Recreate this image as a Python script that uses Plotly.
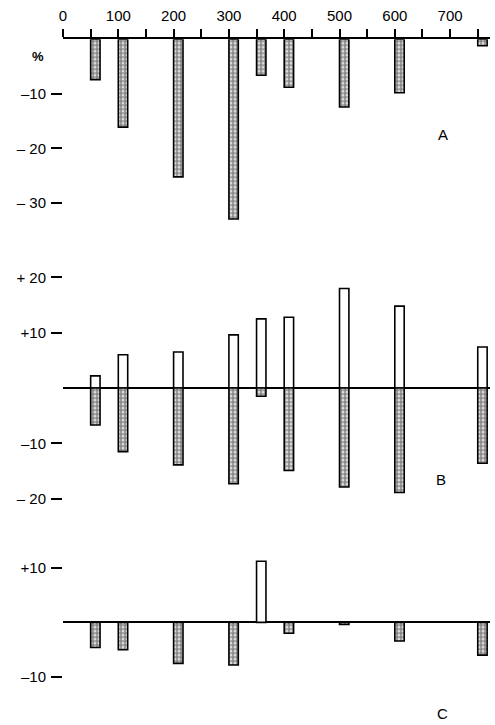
import plotly.graph_objects as go

# ---- data ----
x_vals = [50, 100, 200, 300, 350, 400, 500, 600, 750]
a_vals = [-7.4, -16.1, -25.2, -32.9, -6.6, -8.8, -12.4, -9.8, -1.2]
b_pos = [2.2, 6.0, 6.5, 9.6, 12.5, 12.8, 18.0, 14.8, 7.4]
b_neg = [-6.7, -11.5, -13.9, -17.3, -1.5, -14.9, -17.9, -18.9, -13.6]
c_vals = [-4.6, -5.0, -7.5, -7.8, 11.2, -2.0, -0.4, -3.4, -6.0]

x_tickvals = list(range(0, 800, 50))
x_ticktext = [str(v) if v % 100 == 0 and v <= 700 else "" for v in x_tickvals]
a_ytickvals = [-10, -20, -30]
a_yticktext = ["–10", "– 20", "– 30"]
b_ytickvals = [20, 10, -10, -20]
b_yticktext = ["+ 20", "+10", "–10", "– 20"]
c_ytickvals = [10, -10]
c_yticktext = ["+10", "–10"]
panel_labels = ["A", "B", "C"]

W, H = 495, 725
L, R = 63, 5
FONT = "Liberation Sans"
BAR_W = 17

def py(p):
    return 1 - p / H

def px(p):
    return (p - L) / (W - L - R)

stipple = dict(shape=".", fgcolor="#111111", bgcolor="white", size=4, solidity=0.75)
outline = dict(color="black", width=1.6)

fig = go.Figure()

fig.add_trace(go.Bar(x=x_vals, y=a_vals, offset=0, width=BAR_W,
                     marker=dict(color="white", pattern=stipple, line=outline),
                     xaxis="x", yaxis="y", showlegend=False))
fig.add_trace(go.Bar(x=x_vals, y=b_pos, offset=0, width=BAR_W,
                     marker=dict(color="white", line=outline),
                     xaxis="x2", yaxis="y2", showlegend=False))
fig.add_trace(go.Bar(x=x_vals, y=b_neg, offset=0, width=BAR_W,
                     marker=dict(color="white", pattern=stipple, line=outline),
                     xaxis="x2", yaxis="y2", showlegend=False))
c_shapes = ["." if v < 0 else "" for v in c_vals]
fig.add_trace(go.Bar(x=x_vals, y=c_vals, offset=0, width=BAR_W,
                     marker=dict(color="white",
                                 pattern=dict(shape=c_shapes, fgcolor="#111111", bgcolor="white",
                                              size=4, solidity=0.75),
                                 line=outline),
                     xaxis="x3", yaxis="y3", showlegend=False))

xr = [0, (W - L - R) / 0.553]
dA = [py(225), py(39.5)]
rA = [-(225 - 39.5) / 5.5, 0]
dB = [py(505), py(270)]
rB = [-(505 - 390.7) / 5.57, (390.7 - 270) / 5.57]
dC = [py(695), py(555)]
rC = [-(695 - 626.7) / 5.5, (626.7 - 555) / 5.5]

yax_common = dict(showgrid=False, showline=False, ticks="outside", ticklen=11,
                  tickwidth=1.6, tickcolor="black", tickfont=dict(size=15, family=FONT, color="black"),
                  ticklabelstandoff=2, fixedrange=True)

fig.update_layout(
    width=W, height=H,
    margin=dict(l=L, r=R, t=0, b=0),
    paper_bgcolor="white", plot_bgcolor="white",
    barmode="overlay",
    font=dict(family=FONT, color="black"),
    xaxis=dict(domain=[0, 1], range=xr, anchor="y", side="top", showgrid=False, zeroline=False,
               showline=True, linecolor="black", linewidth=1.6,
               tickmode="array", tickvals=x_tickvals, ticktext=x_ticktext,
               ticks="outside", ticklen=8, tickwidth=1.5, tickcolor="black",
               tickfont=dict(size=15, family=FONT, color="black"), ticklabelstandoff=2),
    xaxis2=dict(domain=[0, 1], range=xr, anchor="y2", visible=False),
    xaxis3=dict(domain=[0, 1], range=xr, anchor="y3", visible=False),
    yaxis=dict(domain=dA, range=rA, anchor="x", zeroline=False,
               tickmode="array", tickvals=a_ytickvals, ticktext=a_yticktext, **yax_common),
    yaxis2=dict(domain=dB, range=rB, anchor="x2", zeroline=True, zerolinecolor="black",
                zerolinewidth=1.6,
                tickmode="array", tickvals=b_ytickvals, ticktext=b_yticktext, **yax_common),
    yaxis3=dict(domain=dC, range=rC, anchor="x3", zeroline=True, zerolinecolor="black",
                zerolinewidth=1.6,
                tickmode="array", tickvals=c_ytickvals, ticktext=c_yticktext, **yax_common),
)

label_pos = [(443, 135), (441, 483), (442, 718)]
for txt, (lx, ly) in zip(panel_labels, label_pos):
    fig.add_annotation(text=txt, x=px(lx), y=py(ly), xref="paper", yref="paper",
                       xanchor="center", yanchor="middle",
                       showarrow=False, font=dict(size=15, family=FONT, color="black"))
fig.add_annotation(text="<b>%</b>", x=px(37.5), y=py(57), xref="paper", yref="paper",
                   xanchor="center", yanchor="middle",
                   showarrow=False, font=dict(size=13, family=FONT, color="black"))

fig.write_html("out.html")
